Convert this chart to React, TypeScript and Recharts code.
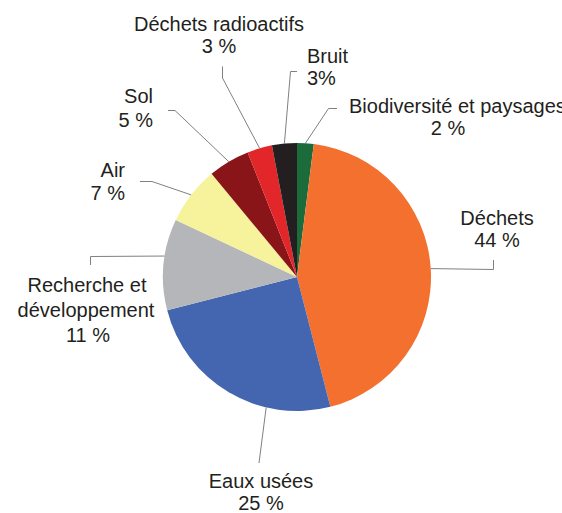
import React from 'react';
import { PieChart, Pie, Cell } from 'recharts';

const categories = [
  'Biodiversité et paysages',
  'Déchets',
  'Eaux usées',
  'Recherche et\ndéveloppement',
  'Air',
  'Sol',
  'Déchets radioactifs',
  'Bruit',
];
const values = [2, 44, 25, 11, 7, 5, 3, 3];
const valueLabels = ['2 %', '44 %', '25 %', '11 %', '7 %', '5 %', '3 %', '3%'];
const colors = ['#1c6b3b', '#f4702f', '#4466b0', '#b5b6b9', '#f6f39c', '#8a1519', '#e2262a', '#231f20'];

const data = categories.map((name, i) => ({ name, value: values[i], valueLabel: valueLabels[i] }));

// Label layout: text line positions and leader-line waypoints (page pixels)
type Line = { x: number; y: number; anchor: 'start' | 'middle' | 'end' };
type Layout = { lines: Line[]; path: [number, number][]; shift?: number };
const layout: Layout[] = [
  { lines: [{ x: 349, y: 113, anchor: 'start' }, { x: 448, y: 135, anchor: 'middle' }], path: [[328.5, 108.5], [337, 108.5]] },
  { lines: [{ x: 497, y: 225, anchor: 'middle' }, { x: 497, y: 247, anchor: 'middle' }], path: [[493.5, 269.5], [493.5, 260]] },
  { lines: [{ x: 261, y: 488, anchor: 'middle' }, { x: 261, y: 510, anchor: 'middle' }], path: [[259, 463]], shift: 17.3 },
  { lines: [{ x: 87, y: 292, anchor: 'middle' }, { x: 86, y: 317, anchor: 'middle' }, { x: 88, y: 342, anchor: 'middle' }], path: [[90.5, 256.5], [90.5, 265]], shift: -3.6 },
  { lines: [{ x: 125, y: 177, anchor: 'end' }, { x: 125, y: 200, anchor: 'end' }], path: [[152, 181.5], [140, 181.5]] },
  { lines: [{ x: 153, y: 103, anchor: 'end' }, { x: 153, y: 127, anchor: 'end' }], path: [[175, 110.5], [168, 110.5]] },
  { lines: [{ x: 219, y: 31, anchor: 'middle' }, { x: 219, y: 53, anchor: 'middle' }], path: [[222.5, 78], [222.5, 66.5]] },
  { lines: [{ x: 307, y: 63, anchor: 'start' }, { x: 307, y: 85, anchor: 'start' }], path: [[290.5, 71.5], [297, 71.5]] },
];

const RAD = Math.PI / 180;

const renderLabel = (props: any) => {
  const { cx, cy, midAngle, outerRadius, index } = props;
  const lay = layout[index];
  const ang = midAngle + (lay.shift || 0);
  const ex = cx + outerRadius * Math.cos(-ang * RAD);
  const ey = cy + outerRadius * Math.sin(-ang * RAD);
  const pts = [[ex, ey], ...lay.path].map((p) => p.join(',')).join(' ');
  const d = data[index];
  const texts = [...d.name.split('\n'), d.valueLabel];
  return (
    <g key={`lab-${index}`}>
      <polyline points={pts} fill="none" stroke="#808080" strokeWidth={1} />
      {texts.map((t, i) => (
        <text
          key={i}
          x={lay.lines[i].x}
          y={lay.lines[i].y}
          textAnchor={lay.lines[i].anchor}
          fontFamily="'Liberation Sans', Arial, sans-serif"
          fontSize={20}
          fill="#231f20"
        >
          {t}
        </text>
      ))}
    </g>
  );
};

export default function App() {
  return (
    <div style={{ position: 'absolute', left: 0, top: 0, width: 562, height: 513, background: '#fff', overflow: 'hidden' }}>
      <PieChart width={562} height={513} margin={{ top: 0, right: 0, bottom: 0, left: 0 }}>
        <Pie
          data={data}
          dataKey="value"
          nameKey="name"
          cx={297}
          cy={277}
          outerRadius={134}
          startAngle={90}
          endAngle={-270}
          stroke="none"
          isAnimationActive={false}
          label={renderLabel}
          labelLine={false}
        >
          {data.map((d, i) => (
            <Cell key={d.name} fill={colors[i]} />
          ))}
        </Pie>
      </PieChart>
    </div>
  );
}
